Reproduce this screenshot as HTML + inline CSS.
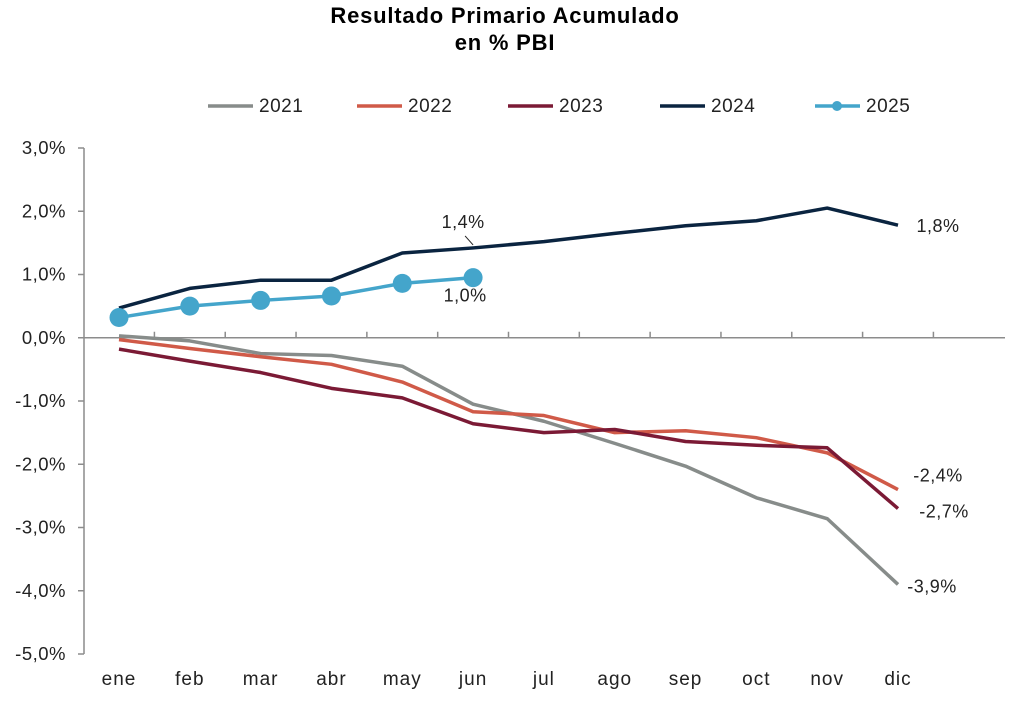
<!DOCTYPE html>
<html><head><meta charset="utf-8"><style>
body{margin:0;background:#fff;}
svg{display:block;font-family:"Liberation Sans",sans-serif;}
</style></head><body>
<svg id="chart" width="1027" height="703">
<text x="505" y="23" text-anchor="middle" font-size="22" font-weight="bold" letter-spacing="0.8" fill="#000">Resultado Primario Acumulado</text>
<text x="505" y="50" text-anchor="middle" font-size="22" font-weight="bold" letter-spacing="0.8" fill="#000">en % PBI</text>
<g id="axes"></g><g id="series"></g><g id="legend"></g>
</svg>
<script>
const categories=["ene","feb","mar","abr","may","jun","jul","ago","sep","oct","nov","dic"];
const yTicks=[3,2,1,0,-1,-2,-3,-4,-5];
const yTickLabels=["3,0%","2,0%","1,0%","0,0%","-1,0%","-2,0%","-3,0%","-4,0%","-5,0%"];
const seriesNames=["2021","2022","2023","2024","2025"];
const seriesColors=["#878c8a","#d05a48","#7b1a35","#0a2440","#44a5cb"];
const v2021=[0.03,-0.05,-0.25,-0.28,-0.45,-1.05,-1.32,-1.67,-2.03,-2.53,-2.86,-3.9];
const v2022=[-0.03,-0.17,-0.3,-0.42,-0.7,-1.17,-1.23,-1.5,-1.47,-1.58,-1.82,-2.4];
const v2023=[-0.18,-0.37,-0.55,-0.8,-0.95,-1.36,-1.5,-1.45,-1.64,-1.7,-1.74,-2.7];
const v2024=[0.47,0.78,0.91,0.91,1.34,1.42,1.52,1.65,1.77,1.85,2.05,1.78];
const v2025=[0.32,0.5,0.59,0.66,0.86,0.95];
const labels=[{s:3,i:5,t:"1,4%",dx:-10,dy:-20},{s:4,i:5,t:"1,0%",dx:-8,dy:24},{s:3,i:11,t:"1,8%",dx:40,dy:7},{s:1,i:11,t:"-2,4%",dx:40,dy:-8},{s:2,i:11,t:"-2,7%",dx:46,dy:9},{s:0,i:11,t:"-3,9%",dx:34,dy:8}];
const allSeries=[v2021,v2022,v2023,v2024,v2025];
const NS="http://www.w3.org/2000/svg";
const X0=84,X1=1005,Ytop=148,Ybot=654;
function x(i){return 119+i*(898-119)/11;}
function y(v){return Ytop+(3-v)*(Ybot-Ytop)/8;}
function mk(t,a,p){const e=document.createElementNS(NS,t);for(const k in a)e.setAttribute(k,a[k]);p.appendChild(e);return e;}
const ax=document.getElementById('axes');
const yl=mk('line',{x1:X0,y1:Ytop,x2:X0,y2:Ybot,stroke:'#8c8c8c','stroke-width':1.5},ax);


yTicks.forEach((t,k)=>{
 mk('line',{x1:X0-6,y1:y(t),x2:X0,y2:y(t),stroke:'#8c8c8c','stroke-width':1.5},ax);
 const tx=mk('text',{x:X0-18,y:y(t)+6,'text-anchor':'end','font-size':18.5,'letter-spacing':0.5,fill:'#222'},ax);
 tx.textContent=yTickLabels[k];
 
 
});
const xl=mk('line',{x1:X0,y1:y(0),x2:X1,y2:y(0),stroke:'#8c8c8c','stroke-width':1.5},ax);


const half=(x(1)-x(0))/2;
categories.forEach((c,i)=>{
 mk('line',{x1:x(i)+half,y1:y(0)-6,x2:x(i)+half,y2:y(0),stroke:'#8c8c8c','stroke-width':1.5},ax);
 const tx=mk('text',{x:x(i),y:685,'text-anchor':'middle','font-size':19,'letter-spacing':1,fill:'#222'},ax);
 tx.textContent=c;
 
 
});
const sg=document.getElementById('series');
allSeries.forEach((vals,s)=>{
 const p=mk('polyline',{points:vals.map((v,i)=>x(i)+','+y(v)).join(' '),fill:'none',stroke:seriesColors[s],'stroke-width':3.5,'stroke-linejoin':'round'},sg);
 
 
 if(s===4){vals.forEach((v,i)=>{
  const c=mk('circle',{cx:x(i),cy:y(v),r:9.5,fill:seriesColors[s]},sg);
  
  
 });}
});
labels.forEach(l=>{
 const v=allSeries[l.s][l.i];
 const tx=mk('text',{x:x(l.i)+l.dx,y:y(v)+l.dy,'text-anchor':'middle','font-size':18,'letter-spacing':0.5,fill:'#222'},sg);
 tx.textContent=l.t;
 
 
});
mk('line',{x1:x(5),y1:y(1.42)-3,x2:x(5)-8,y2:y(1.42)-12,stroke:'#222','stroke-width':1},sg);
const lg=document.getElementById('legend');
const lx=[208,357,508,660,815];
seriesNames.forEach((n,s)=>{
 const g=mk('g',{},lg);
 
 
 mk('line',{x1:lx[s],y1:106,x2:lx[s]+45,y2:106,stroke:seriesColors[s],'stroke-width':3.5},g);
 if(s===4)mk('circle',{cx:lx[s]+22,cy:106,r:5,fill:seriesColors[s]},g);
 const t=mk('text',{x:lx[s]+51,y:112,'font-size':19,'letter-spacing':0.5,fill:'#222'},g);t.textContent=n;
});
</script>
</body></html>
